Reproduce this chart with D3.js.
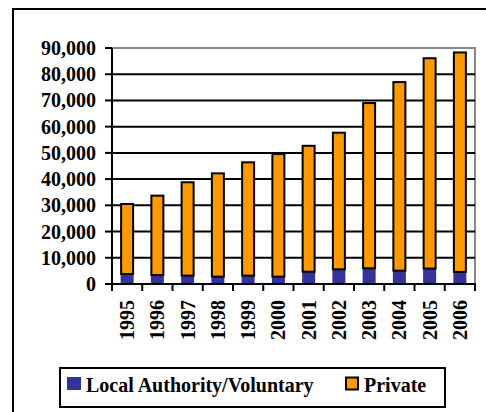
<!DOCTYPE html>
<html><head><meta charset="utf-8"><script src="https://cdn.jsdelivr.net/npm/d3@7"></script>
<style>
svg text, text { font-family: "Liberation Serif", "Times New Roman", serif !important; font-weight: bold !important; }
</style></head>
<body style="margin:0">
<script>
const years = ["1995","1996","1997","1998","1999","2000","2001","2002","2003","2004","2005","2006"];
const localAuthority = [3800,3400,3200,2800,3200,2800,4700,5600,6000,5100,5900,4600];
const privateTotal = [30500,33700,38800,42200,46400,49600,52700,57700,69000,77000,86100,88300];
const privateSeries = privateTotal.map((t,i)=>t-localAuthority[i]);
const yTicks = [0,10000,20000,30000,40000,50000,60000,70000,80000,90000];
const seriesNames = ["Local Authority/Voluntary","Private"];
const colors = ["#333399","#FF9900"];

const FONT="Liberation Serif";
const W=486,H=412;
const svg=d3.select("body").append("svg").attr("width",W).attr("height",H).style("display","block");

svg.append("rect").attr("x",13).attr("y",9).attr("width",W).attr("height",H)
  .attr("fill","none").attr("stroke","#000").attr("stroke-width",2);

const pL=112,pR=475,pT=48,pB=284;
const y=d3.scaleLinear().domain([0,90000]).range([pB,pT]);
const x=d3.scaleBand().domain(years).range([pL,pR]).paddingInner(0.57).paddingOuter(0.285);
const step=x.step(), bw=x.bandwidth();

svg.append("rect").attr("x",pL).attr("y",pT).attr("width",pR-pL).attr("height",pB-pT)
  .attr("fill","none").attr("stroke","#888").attr("stroke-width",2);

yTicks.filter(v=>v>0&&v<90000).forEach(v=>{
  svg.append("line").attr("x1",pL).attr("x2",pR).attr("y1",y(v)).attr("y2",y(v))
    .attr("stroke","#000").attr("stroke-width",2);
});

const stack=d3.stack().keys([0,1]).value((d,k)=>k===0?localAuthority[d]:privateSeries[d])(d3.range(years.length));
stack[0].forEach((d,i)=>{
  svg.append("rect").attr("x",x(years[i])).attr("width",bw)
    .attr("y",y(d[1])).attr("height",y(d[0])-y(d[1])).attr("fill",colors[0]);
});
stack[1].forEach((d,i)=>{
  svg.append("rect").attr("x",x(years[i])+0.5).attr("width",bw-1)
    .attr("y",y(d[1])).attr("height",y(d[0])-y(d[1]))
    .attr("fill",colors[1]).attr("stroke","#000").attr("stroke-width",2);
});

function addText(tx,ty,str,anchor,transform){
  const t=svg.append("text");
  if(transform) t.attr("transform",transform); else t.attr("x",tx).attr("y",ty);
  t.attr("font-family",FONT).attr("font-weight","bold").attr("font-size",20)
   .style("font-family",'"Liberation Serif", serif',"important")
   .style("font-weight","bold","important");
  if(anchor) t.attr("text-anchor",anchor);
  t.text(str);
  return t;
}

const fmt=d3.format(",");
svg.append("line").attr("x1",pL).attr("x2",pL).attr("y1",pT).attr("y2",pB+1).attr("stroke","#000").attr("stroke-width",2);
yTicks.forEach(v=>{
  svg.append("line").attr("x1",pL-7).attr("x2",pL).attr("y1",y(v)).attr("y2",y(v)).attr("stroke","#000").attr("stroke-width",2);
  addText(96,y(v)+7,fmt(v),"end");
});

svg.append("line").attr("x1",pL-1).attr("x2",pR+1).attr("y1",pB).attr("y2",pB)
  .attr("stroke","#000").attr("stroke-width",2);
const bounds=d3.range(years.length+1).map(i=>i===years.length? x(years[i-1])+bw+(step-bw)/2 : x(years[i])-(step-bw)/2);
bounds.forEach(b=>{
  svg.append("line").attr("x1",b).attr("x2",b).attr("y1",pB).attr("y2",pB+7)
    .attr("stroke","#000").attr("stroke-width",2);
});
years.forEach(d=>{
  addText(0,0,d,"end",`translate(${x(d)+bw/2+7},300) rotate(-90)`);
});

svg.append("rect").attr("x",60).attr("y",368).attr("width",385).attr("height",39)
  .attr("fill","#fff").attr("stroke","#000").attr("stroke-width",2);
svg.append("rect").attr("x",67).attr("y",377).attr("width",14).attr("height",13).attr("fill",colors[0]);
addText(86,392,seriesNames[0]);
svg.append("rect").attr("x",346).attr("y",377.5).attr("width",12).attr("height",12)
  .attr("fill",colors[1]).attr("stroke","#000").attr("stroke-width",2);
addText(364,392,seriesNames[1]);
</script>
</body></html>
